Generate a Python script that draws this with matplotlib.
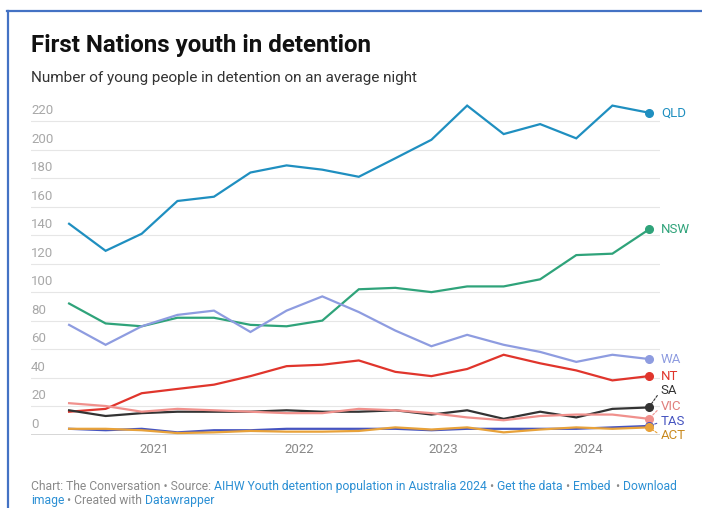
import numpy as np
import pandas as pd
import matplotlib
matplotlib.use('Agg')
import matplotlib.pyplot as plt
from matplotlib.lines import Line2D
from matplotlib.text import Annotation

plt.rcParams['font.family'] = ['Roboto', 'DejaVu Sans']

# quarterly readings, Jun 2020 .. Jun 2024
quarters = pd.date_range('2020-06-01', periods=17, freq='3MS')

qld = [148, 129, 141, 164, 167, 184, 189, 186, 181, 194, 207, 231, 211, 218, 208, 231, 226]
nsw = [92, 78, 76, 82, 82, 77, 76, 80, 102, 103, 100, 104, 104, 109, 126, 127, 144]
wa = [77, 63, 76, 84, 87, 72, 87, 97, 86, 73, 62, 70, 63, 58, 51, 56, 53]
nt = [16, 18, 29, 32, 35, 41, 48, 49, 52, 44, 41, 46, 56, 50, 45, 38, 41]
sa = [17, 13, 15, 16, 16, 16, 17, 16, 16, 17, 14, 17, 11, 16, 12, 18, 19]
vic = [22, 20, 16, 18, 17, 16, 15, 15, 18, 17, 15, 12, 10, 13, 14, 14, 11]
tas = [4, 3, 4, 1.5, 3, 3, 4, 4, 4, 4, 3, 4, 4, 4, 4, 5, 6]
act = [4, 4, 3, 1, 1.5, 2.5, 2, 2, 2.5, 5, 3.5, 5, 1.5, 3.5, 5, 4, 5]

states = ['QLD', 'NSW', 'WA', 'NT', 'SA', 'VIC', 'TAS', 'ACT']
series = [qld, nsw, wa, nt, sa, vic, tas, act]
colors = ['#1f8fc0', '#2fa37a', '#8e9ce0', '#e0352c', '#333333', '#f0908c', '#4654c0', '#e8a23a']
label_colors = ['#1f8fc0', '#2fa37a', '#8e9ce0', '#e0352c', '#333333', '#e07f7c', '#4654c0', '#c98a20']
# label nudges (pixels) for the crowded bottom group
label_dy = {'SA': 17, 'VIC': 12, 'TAS': 4, 'ACT': -8}

yticks = list(range(0, 221, 20))
years = [2021, 2022, 2023, 2024]

W, H = 702, 508
fig = plt.figure(figsize=(W / 100, H / 100), dpi=100)
ax = fig.add_axes([31 / W, (H - 434.5) / H, 629 / W, 334.6 / H])
ax.set_ylim(0, 235)
ax.set_xlim(quarters[0] - pd.Timedelta(days=96), quarters[-1] + pd.Timedelta(days=28))
for s in ax.spines.values():
    s.set_visible(False)
ax.set_yticks([])

for v in yticks:
    if v == 0:
        ax.axhline(v, color='#333333', lw=1, zorder=1)
    else:
        ax.axhline(v, color='#e6e6e6', lw=0.8, zorder=0)
    ax.annotate(str(v), xy=(0, v), xycoords=ax.get_yaxis_transform(),
                xytext=(0, 4), textcoords='offset pixels',
                ha='left', va='bottom', color='#a8a8a8', fontsize=9.5)

ax.set_xticks([pd.Timestamp(f'{y}-01-01') for y in years])
ax.set_xticklabels([str(y) for y in years], color='#888888', fontsize=9.5)
ax.tick_params(axis='x', length=0, pad=6)

for name, vals, c, lc in zip(states, series, colors, label_colors):
    ax.plot(quarters, vals, color=c, lw=1.6, solid_joinstyle='miter', zorder=3)
    ax.plot(quarters[-1], vals[-1], 'o', ms=5.5, color=c, zorder=4, clip_on=False)
    dy = label_dy.get(name, 0)
    if dy:
        ax.annotate(name, xy=(quarters[-1], vals[-1]), xytext=(12, dy),
                    textcoords='offset pixels', ha='left', va='center',
                    color=lc, fontsize=9.5, annotation_clip=False,
                    arrowprops=dict(arrowstyle='-', color=c, lw=0.8, ls=(0, (2, 1.5)),
                                    shrinkA=1, shrinkB=3, relpos=(0, 0.5)))
    else:
        ax.annotate(name, xy=(quarters[-1], vals[-1]), xytext=(12, 0),
                    textcoords='offset pixels', ha='left', va='center',
                    color=lc, fontsize=9.5, annotation_clip=False)

fig.text(31 / W, 1 - 52 / H, 'First Nations youth in detention', fontsize=17.4,
         fontweight='bold', color='#111111', va='baseline')
fig.text(31 / W, 1 - 82 / H, 'Number of young people in detention on an average night',
         fontsize=11, color='#333333', va='baseline')

# footer with link-coloured pieces, chained left to right
grey, blue = '#8a8a8a', '#2a8fd4'
footer = [
    [('Chart: The Conversation • Source:', grey),
     (' AIHW Youth detention population in Australia 2024', blue),
     (' •', grey), (' Get the data', blue), (' •', grey), (' Embed', blue),
     ('  •', grey), (' Download', blue)],
    [('image', blue), (' • Created with', grey), (' Datawrapper', blue)],
]
for row, ypix in zip(footer, [493, 507]):
    prev = None
    for txt, col in row:
        if prev is None:
            prev = fig.text(31 / W, 1 - ypix / H, txt, color=col, fontsize=8.7, va='bottom')
        else:
            prev = fig.add_artist(Annotation(txt, xy=(1, 0), xycoords=prev, va='bottom',
                                             ha='left', color=col, fontsize=8.7))

# blue frame from the screenshot
fig.add_artist(Line2D([7 / W, 1], [1 - 10.5 / H] * 2, color='#4472c4', lw=1.6,
                      transform=fig.transFigure))
fig.add_artist(Line2D([7.5 / W] * 2, [0, 1 - 10.5 / H], color='#4472c4', lw=1.6,
                      transform=fig.transFigure))

fig.savefig('out.png', dpi=100)
